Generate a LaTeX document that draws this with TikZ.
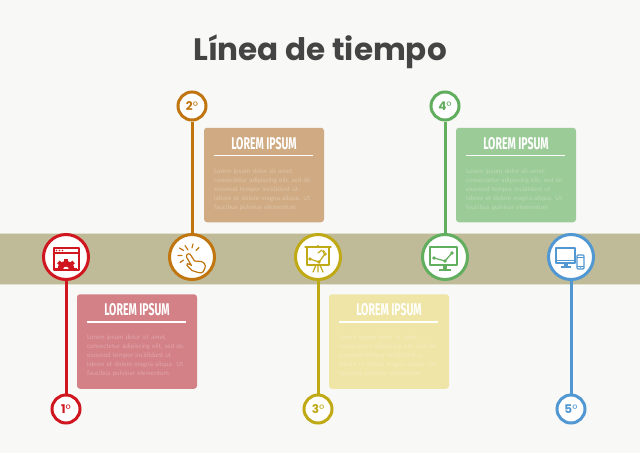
\documentclass[tikz,border=0pt]{standalone}
\usepackage{fontspec}
\setmainfont{Lato}
\newfontfamily\titlefont{Poppins}
\newfontfamily\condfont[FakeStretch=0.62]{Fira Sans}
\newfontfamily\bodyfont{Lato}
\definecolor{bg}{HTML}{F8F8F6}
\definecolor{band}{HTML}{BFBB98}
\definecolor{bandedge}{HTML}{E2E0CE}
\definecolor{cRed}{HTML}{D0161F}
\definecolor{cOrange}{HTML}{C0750F}
\definecolor{cYellow}{HTML}{BFA914}
\definecolor{cGreen}{HTML}{62AE5F}
\definecolor{cBlue}{HTML}{5198D3}
\definecolor{bRed}{HTML}{D38086}
\definecolor{bTan}{HTML}{D0AA82}
\definecolor{bYellow}{HTML}{EFE5A6}
\definecolor{bGreen}{HTML}{9BCB96}
\definecolor{titlegray}{HTML}{444444}
\tikzset{
  bigring/.style={circle,draw=#1,line width=3pt,fill=white,minimum size=45pt,inner sep=0pt},
  smallring/.style={circle,draw=#1,line width=3pt,fill=white,minimum size=28pt,inner sep=0pt,
    text=#1,font=\titlefont\bfseries\fontsize{12}{12}\selectfont},
  stem/.style={draw=#1,line width=3pt},
  card/.style={rounded corners=3pt,fill=#1,minimum width=120pt,minimum height=94.5pt,inner sep=0pt},
  cardhead/.style={text=white,font=\condfont\bfseries\fontsize{17}{17}\selectfont,inner sep=0pt},
  cardrule/.style={draw=white,line width=1.5pt},
  cardbody/.style={text=white,text opacity=.3,font=\bodyfont\fontsize{6.4}{9}\selectfont,text width=100pt,align=center,inner sep=0pt},
  iconline/.style={draw=#1,line width=1.2pt,line join=round,line cap=round},
}
\newcommand{\jl}[1]{\makebox[100pt][s]{#1}}
\newcommand{\lorembody}{\jl{Lorem ipsum dolor sit amet,}\\\jl{consectetur adipiscing elit, sed do}\\\jl{eiusmod tempor incididunt ut}\\\jl{labore et dolore magna aliqua. Ut}\\\jl{faucibus pulvinar elementum}}
\newcommand{\infocard}[4]{%
  \node[card=#4] (#1) at (#2,#3) {};
  \node[cardhead] (#1h) at ([yshift=31.5pt]#1.center) {LOREM IPSUM};
  \coordinate (#1l) at ([xshift=-50pt,yshift=-28pt]#1.north);
  \coordinate (#1r) at ([xshift=49pt,yshift=-28pt]#1.north);
  \draw[cardrule] (#1l) -- (#1r);
  \node[cardbody] (#1b) at ([yshift=-14.5pt]#1.center) {\lorembody};
}
\begin{document}
\begin{tikzpicture}[x=1pt,y=-1pt]
\useasboundingbox (0,0) rectangle (640,453);
\fill[bg] (0,0) rectangle (640,453);
\fill[band] (0,233) rectangle (640,284);
\draw[bandedge,line width=.6pt] (0,233) -- (640,233) (0,284) -- (640,284);
\node[text=titlegray,font=\titlefont\bfseries\fontsize{31}{31}\selectfont,inner sep=0pt] (title) at (320,52) {Línea de tiempo};
% main rings
\node[bigring=cRed] (m1) at (66,257) {};
\node[bigring=cOrange] (m2) at (192,257) {};
\node[bigring=cYellow] (m3) at (318,257) {};
\node[bigring=cGreen] (m4) at (445,257) {};
\node[bigring=cBlue] (m5) at (571,257) {};
% small rings
\node[smallring=cRed] (s1) at (66,409) {1{\mdseries º}};
\node[smallring=cOrange] (s2) at (192,106) {2{\mdseries º}};
\node[smallring=cYellow] (s3) at (318,409) {3{\mdseries º}};
\node[smallring=cGreen] (s4) at (445,106) {4{\mdseries º}};
\node[smallring=cBlue] (s5) at (571,409) {5{\mdseries º}};
\draw[stem=cRed] (m1) -- (s1);
\draw[stem=cOrange] (m2) -- (s2);
\draw[stem=cYellow] (m3) -- (s3);
\draw[stem=cGreen] (m4) -- (s4);
\draw[stem=cBlue] (m5) -- (s5);
% cards
\infocard{c1}{137}{341.5}{bRed}
\infocard{c2}{264}{175}{bTan}
\infocard{c3}{389}{341.5}{bYellow}
\infocard{c4}{516}{175}{bGreen}
% icon 1: window with gear
\draw[iconline=cRed] (54,248) rectangle (79,270);
\draw[iconline=cRed] (54,253) -- (79,253);
\fill[cRed] (56.5,250.5) circle (.8) (59.5,250.5) circle (.8) (62.5,250.5) circle (.8);
\begin{scope}
\clip (50,255) rectangle (83,269.5);
\fill[cRed,even odd rule] (66,269.5) circle (3)
  (66,269.5) circle (8.5);
\foreach \a in {0,45,...,315}
  \fill[cRed,rotate around={\a:(66,269.5)}] (64.2,258.8) rectangle (67.8,263);
\end{scope}
% icon 2: tap hand
\draw[iconline=cOrange] (188,250) -- (185,245.5) (183.5,250.5) -- (179.5,248) (182,255.5) -- (178,255.5) (183.5,260) -- (180,262.5) (192,248) -- (193,244) (196,250.5) -- (199,247.5);
\draw[iconline=cOrange] (186.5,257) .. controls (186,253.5) and (190,252.5) .. (191,255.5) -- (194.5,261) -- (201,261.5) .. controls (204,262) and (206,265) .. (205,268) -- (203,272) .. controls (202,273) and (200,273) .. (198,272.5) -- (192,270.5) -- (187,265.5) .. controls (186,263.5) and (188,263) .. (190,264.5) -- (191.5,265.5) -- cycle;
% icon 3: presentation board
\draw[iconline=cYellow] (305,247) -- (331,247);
\draw[iconline=cYellow] (307,247) -- (307,265) -- (329,265) -- (329,247);
\fill[cYellow] (318,246) circle (1.2);
\draw[iconline=cYellow] (318,265) -- (318,272) (316,265) -- (313,272) (320,265) -- (323,272);
\draw[iconline=cYellow] (310,259) -- (319,262) -- (325,254);
\fill[cYellow] (310,259) circle (1.8) (319,262) circle (1.8) (325,254) circle (1.8);
\draw[iconline=cYellow] (318,253) -- (322,250);
\fill[cYellow] (323.5,251.5) circle (1.5);
% icon 4: monitor with chart
\draw[iconline=cGreen] (430,247) rectangle (457,265);
\fill[cGreen] (443,265) rectangle (447,269);
\fill[cGreen] (439,269) rectangle (451,271);
\draw[iconline=cGreen] (434,258) -- (445,261) -- (452,253);
\fill[cGreen] (434,258) circle (1.8) (445,261) circle (1.8) (452,253) circle (1.8);
% icon 5: monitor and phone
\draw[iconline=cBlue] (556,248) rectangle (575,263);
\draw[iconline=cBlue] (556,260.5) -- (575,260.5);
\fill[cBlue] (564,263) rectangle (568,266);
\fill[cBlue] (561,266) rectangle (571,267.5);
\draw[iconline=cBlue,fill=white,rounded corners=1pt] (577,255) rectangle (584,269);
\fill[cBlue] (580.5,267.3) circle (.6);
\draw[cBlue,line width=.6pt] (577,257) -- (584,257) (577,266) -- (584,266);
\end{tikzpicture}
\end{document}
